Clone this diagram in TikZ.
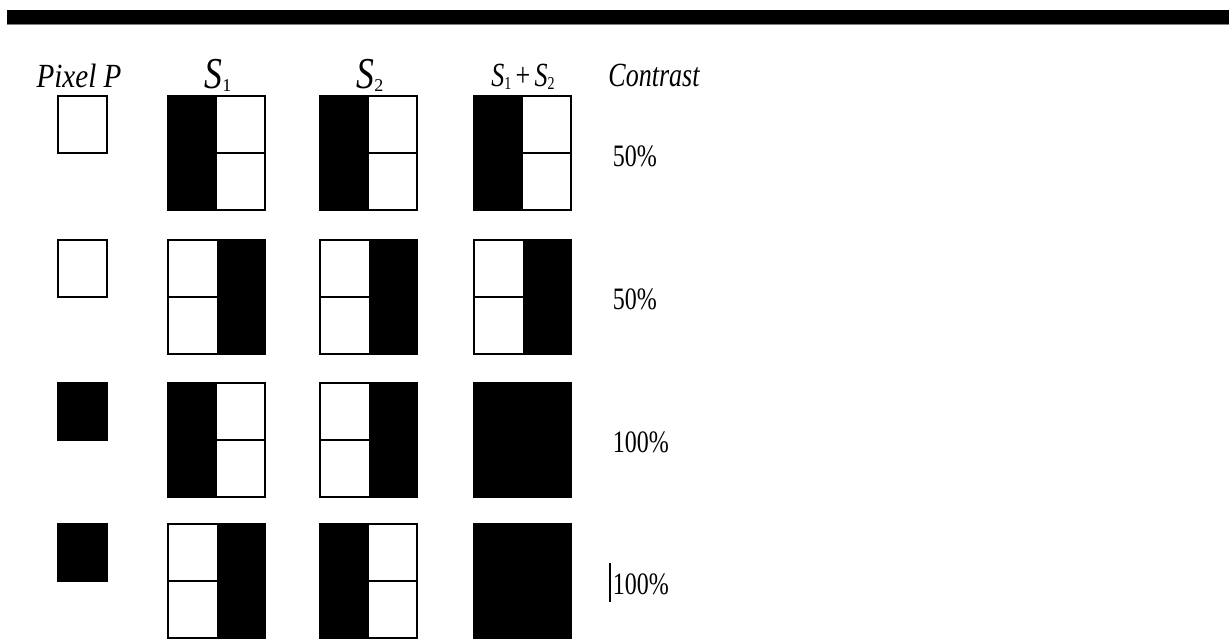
\documentclass[tikz,border=0pt]{standalone}
\usepackage{fontspec}
\setmainfont{Liberation Serif}
\newcommand\vs[1]{\scalebox{1}[1.3]{#1}}
\begin{document}
\begin{tikzpicture}[x=1pt,y=-1pt,line width=1.6pt,
  hdr/.style={anchor=base,font=\fontsize{26}{30}\selectfont\itshape,inner sep=0pt},
  shdr/.style={anchor=base,font=\fontsize{42}{48}\selectfont\itshape,inner sep=0pt},
  pct/.style={anchor=west,font=\fontsize{24}{28}\selectfont,inner sep=0pt},
  leftblack/.pic={\fill (0,0) rectangle (49,114); \draw (0,0) rectangle (97,114); \draw (49,57) -- (97,57);},
  rightblack/.pic={\fill (49,0) rectangle (97,114); \draw (0,0) rectangle (97,114); \draw (0,57) -- (49,57);},
  fullblack/.pic={\fill (0,0) rectangle (97,114); \draw (0,0) rectangle (97,114);},
  pwhite/.pic={\draw (0,0) rectangle (49,57);},
  pblack/.pic={\fill (0,0) rectangle (49,57); \draw (0,0) rectangle (49,57);}
]
\useasboundingbox (0,0) rectangle (1229,643);
\fill (7,10) rectangle (1229,24);
\draw[gray,line width=0.8pt] (7,24.5) -- (1229,24.5);
% headers
\node[hdr] (hp) at (79,87) {\scalebox{1.12}[1.3]{Pixel P}};
\node[shdr] (h1) at (218,88) {\scalebox{0.85}[1.05]{S}\raisebox{-0.2ex}{\fontsize{18}{20}\selectfont\upshape 1}};
\node[shdr] (h2) at (370,88) {\scalebox{0.85}[1.05]{S}\raisebox{-0.2ex}{\fontsize{18}{20}\selectfont\upshape 2}};
\node[hdr] (h3) at (523,86) {\vs{S\raisebox{-0.2ex}{\fontsize{14}{16}\selectfont\upshape 1}\,{\upshape +}\,S\raisebox{-0.2ex}{\fontsize{14}{16}\selectfont\upshape 2}}};
\node[hdr] (hc) at (654,86) {\vs{Contrast}};
% row 1
\pic at (58,96) {pwhite};
\pic at (168,96) {leftblack};
\pic at (320,96) {leftblack};
\pic at (474,96) {leftblack};
\node[pct,anchor=base west] (c1) at (612,166) {\vs{50\%}};
% row 2
\pic at (58,240) {pwhite};
\pic at (168,240) {rightblack};
\pic at (320,240) {rightblack};
\pic at (474,240) {rightblack};
\node[pct,anchor=base west] (c2) at (612,309) {\vs{50\%}};
% row 3
\pic at (58,383) {pblack};
\pic at (168,383) {leftblack};
\pic at (320,383) {rightblack};
\pic at (474,383) {fullblack};
\node[pct,anchor=base west] (c3) at (612,452) {\vs{100\%}};
% row 4
\pic at (58,524) {pblack};
\pic at (168,524) {rightblack};
\pic at (320,524) {leftblack};
\pic at (474,524) {fullblack};
\node[pct,anchor=base west] (c4) at (612,594) {\vs{100\%}};
\draw[line width=1.2pt] (610,563) -- (610,602);
\end{tikzpicture}
\end{document}
